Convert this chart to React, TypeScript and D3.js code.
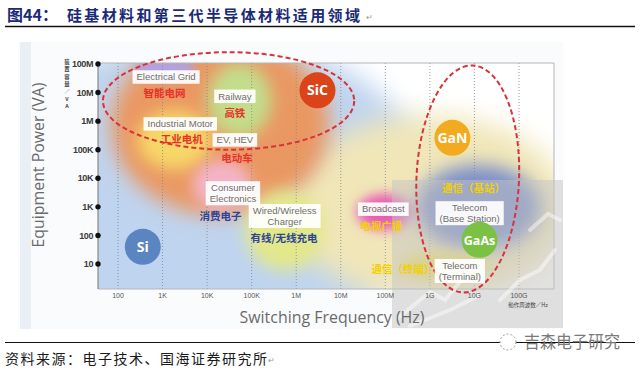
import React, { useEffect, useRef } from 'react';
import * as d3 from 'd3';

const xTicks = [1e2, 1e3, 1e4, 1e5, 1e6, 1e7, 1e8, 1e9, 1e10, 1e11];
const xTickLabels = ['100', '1K', '10K', '100K', '1M', '10M', '100M', '1G', '10G', '100G'];
const yTicks = [1e1, 1e2, 1e3, 1e4, 1e5, 1e6, 1e7, 1e8];
const yTickLabels = ['10', '100', '1K', '10K', '100K', '1M', '10M', '100M'];

// material bubbles: switching frequency (Hz) / equipment power (VA)
const materials = ['Si', 'SiC', 'GaN', 'GaAs'];
const materialFreq = [360, 3e6, 3.2e9, 1.3e10];
const materialPower = [40, 1.2e7, 2.6e5, 70];
const materialColors = ['#5b85c1', '#db4318', '#f2aa1e', '#7bc143'];

// application labels
const appNames = ['Electrical Grid', 'Railway', 'Industrial Motor', 'EV, HEV', 'Consumer\nElectronics',
    'Wired/Wireless\nCharger', 'Broadcast', 'Telecom\n(Base Station)', 'Telecom\n(Terminal)'];
const appFreq = [1.2e3, 4.2e4, 2.5e3, 4.2e4, 3.8e4, 5.5e5, 9e7, 7.8e9, 4.7e9];
const appPower = [3.5e7, 7.4e6, 8e5, 2.2e5, 3e3, 480, 830, 600, 5.7];
const appNamesZh = ['智能电网', '高铁', '工业电机', '电动车', '消费电子', '有线/无线充电', '电视广播', '通信（基站）', '通信（终端）'];
const appZhFreq = [1.1e3, 4.2e4, 2.7e3, 4.7e4, 2e4, 5.3e5, 8e7, 9.5e9, 2.5e8];
const appZhPower = [1e7, 2e6, 2.3e5, 5.1e4, 480, 81, 210, 4.6e3, 6.7];
const appZhColors = ['#e8322c', '#e8322c', '#e8322c', '#e8322c', '#2e4596', '#2e4596', '#f3d000', '#f3d000', '#f3d000'];

// shaded application zones (frequency range, power range)
const zoneFreqLo = [0.1, 7e5, 70, 7e4, 1e4, 270, 240, 4.6e3, 2.3e7, 5e8, 2.1e8];
const zoneFreqHi = [1e9, 1.3e12, 5.6e6, 4.4e6, 2.8e5, 1.3e4, 5.4e3, 1e5, 4e8, 3e11, 2.2e10];
const zonePowerLo = [0.01, 0.55, 500, 6, 2.6e5, 2e4, 2.7e7, 780, 155, 30, 2.8];
const zonePowerHi = [1e9, 1.6e6, 1e9, 3.9e3, 1.1e8, 2.4e6, 1.9e8, 4.4e4, 2.8e3, 3e4, 26];
const zoneColors = ['#bfd4ef', '#f0e6b8', '#ea9862', '#e3e88a', '#c3dd8b', '#f7d768', '#b2a2dd',
    '#f3b4c6', '#e95cb5', '#7d90ca', '#efe066'];
const zoneBlur = [13, 13, 10, 8, 8, 8, 5, 7, 6, 9, 6];

// dashed outlines: SiC area and GaN/GaAs area
const ringFreqLo = [46, 5e8];
const ringFreqHi = [2e7, 1e11];
const ringPowerLo = [1e5, 1];
const ringPowerHi = [2.6e8, 9e7];
const ringTilt = [0, 2.5];

const App = () => {
    const svgRef = useRef(null);

    useEffect(() => {
        const svg = d3.select(svgRef.current);
        const width = 640;
        const height = 370;
        const plotLeft = 98;
        const plotRight = 554;
        const plotTop = 63;
        const plotBottom = 289;

        svg.attr('width', width).attr('height', height).selectAll('*').remove();

        const x = d3.scaleLog().domain([1e2, 1e11]).range([118, 519]);
        const y = d3.scaleLog().domain([1e1, 1e8]).range([264, 64]);

        const defs = svg.append('defs');
        zoneBlur.forEach((b, i) => {
            defs.append('filter')
                .attr('id', `blur-${i}`)
                .attr('x', '-60%').attr('y', '-60%')
                .attr('width', '220%').attr('height', '220%')
                .append('feGaussianBlur')
                .attr('stdDeviation', b);
        });
        defs.append('clipPath').attr('id', 'plot-clip')
            .append('rect')
            .attr('x', plotLeft).attr('y', plotTop)
            .attr('width', plotRight - plotLeft).attr('height', plotBottom - plotTop);

        // title
        const cjk = '"Noto Sans CJK SC", sans-serif';
        svg.append('text')
            .attr('x', 7).attr('y', 21)
            .attr('font-family', cjk).attr('font-weight', 700).attr('font-size', 16)
            .attr('fill', '#1b2a78')
            .text('图44：');
        svg.append('text')
            .attr('x', 67).attr('y', 21)
            .attr('font-family', cjk).attr('font-weight', 700).attr('font-size', 15)
            .attr('fill', '#1b2a78')
            .attr('textLength', 293).attr('lengthAdjust', 'spacing')
            .text('硅基材料和第三代半导体材料适用领域');
        svg.append('text')
            .attr('x', 366).attr('y', 20)
            .attr('font-size', 8).attr('fill', '#999')
            .text('↵');
        svg.append('line')
            .attr('x1', 5).attr('x2', 635).attr('y1', 26.5).attr('y2', 26.5)
            .attr('stroke', '#111').attr('stroke-width', 1.3);

        // picture background
        svg.append('rect')
            .attr('x', 18).attr('y', 42).attr('width', 545).attr('height', 287)
            .attr('fill', '#fafbfd');
        svg.append('rect')
            .attr('x', 20).attr('y', 42).attr('width', 11).attr('height', 287)
            .attr('fill', '#eaeff6');
        svg.append('rect')
            .attr('x', plotLeft).attr('y', plotTop)
            .attr('width', plotRight - plotLeft).attr('height', plotBottom - plotTop)
            .attr('fill', '#ffffff');

        // shaded zones
        const zones = svg.append('g').attr('clip-path', 'url(#plot-clip)');
        zoneColors.forEach((c, i) => {
            const x0 = x(zoneFreqLo[i]);
            const x1 = x(zoneFreqHi[i]);
            const y0 = y(zonePowerHi[i]);
            const y1 = y(zonePowerLo[i]);
            zones.append('ellipse')
                .attr('cx', (x0 + x1) / 2).attr('cy', (y0 + y1) / 2)
                .attr('rx', (x1 - x0) / 2).attr('ry', (y1 - y0) / 2)
                .attr('fill', c)
                .attr('filter', `url(#blur-${i})`);
        });

        // dotted grid
        svg.append('g')
            .selectAll('line')
            .data(xTicks)
            .join('line')
            .attr('x1', d => x(d)).attr('x2', d => x(d))
            .attr('y1', plotTop).attr('y2', plotBottom)
            .attr('stroke', '#7d8790').attr('stroke-width', 0.8)
            .attr('stroke-dasharray', '1,2');

        // frame
        svg.append('path')
            .attr('d', `M${plotLeft},${plotTop}H${plotRight}V${plotBottom}H${plotLeft}`)
            .attr('fill', 'none').attr('stroke', '#b5b5b5').attr('stroke-width', 1);
        svg.append('line')
            .attr('x1', plotLeft).attr('x2', plotLeft).attr('y1', plotTop).attr('y2', plotBottom)
            .attr('stroke', '#777').attr('stroke-width', 1);

        // grey watermark panel
        svg.append('rect')
            .attr('x', 392).attr('y', 180).attr('width', 171).attr('height', 148)
            .attr('fill', '#c4c4c4').attr('opacity', 0.5);
        const wm = svg.append('g').attr('stroke', '#ffffff').attr('stroke-opacity', 0.45)
            .attr('fill', 'none').attr('stroke-width', 4).attr('stroke-linecap', 'round');
        wm.append('path').attr('d', 'M398,318 L430,292 L445,300 L470,270');
        wm.append('path').attr('d', 'M500,300 L520,280 L540,270 L555,250');
        wm.append('path').attr('d', 'M410,326 L450,310 L478,296');
        wm.append('path').attr('d', 'M530,230 L548,214 L560,220');

        // axes ticks
        const label = '"Liberation Sans", Arial, sans-serif';
        svg.append('g')
            .selectAll('circle')
            .data(yTicks)
            .join('circle')
            .attr('cx', plotLeft).attr('cy', d => y(d)).attr('r', 2.7)
            .attr('fill', '#111');
        svg.append('g')
            .selectAll('text')
            .data(yTicks)
            .join('text')
            .attr('x', plotLeft - 5).attr('y', d => y(d) + 3.2)
            .attr('text-anchor', 'end')
            .attr('font-family', label).attr('font-weight', 700).attr('font-size', 9)
            .attr('letter-spacing', -0.4)
            .attr('fill', '#3a3a3a')
            .text((d, i) => yTickLabels[i]);
        svg.append('g')
            .selectAll('text')
            .data(xTicks)
            .join('text')
            .attr('x', d => x(d)).attr('y', 298)
            .attr('text-anchor', 'middle')
            .attr('font-family', label).attr('font-size', 7)
            .attr('fill', '#555')
            .text((d, i) => xTickLabels[i]);
        svg.append('text')
            .attr('x', 528).attr('y', 307)
            .attr('text-anchor', 'middle')
            .attr('font-family', cjk).attr('font-size', 5.5)
            .attr('fill', '#444')
            .text('動作周波数／Hz');
        const unit = ['装', '置', '容', '量', '／', 'V', 'A'];
        svg.append('g')
            .selectAll('text')
            .data(unit)
            .join('text')
            .attr('x', 67).attr('y', (d, i) => 64 + i * 7.4)
            .attr('text-anchor', 'middle')
            .attr('font-family', cjk).attr('font-weight', 700).attr('font-size', 5.4)
            .attr('fill', '#444')
            .text(d => d);

        // axis titles
        svg.append('text')
            .attr('x', 332).attr('y', 323)
            .attr('text-anchor', 'middle')
            .attr('font-family', '"Open Sans", sans-serif').attr('font-size', 15.5)
            .attr('fill', '#6a6a6a')
            .attr('textLength', 185).attr('lengthAdjust', 'spacingAndGlyphs')
            .text('Switching Frequency (Hz)');
        svg.append('text')
            .attr('transform', 'translate(44,165) rotate(-90)')
            .attr('text-anchor', 'middle')
            .attr('font-family', '"Open Sans", sans-serif').attr('font-size', 15.5)
            .attr('fill', '#6a6a6a')
            .attr('textLength', 165).attr('lengthAdjust', 'spacingAndGlyphs')
            .text('Equipment Power (VA)');

        // dashed outlines
        ringFreqLo.forEach((f, i) => {
            const x0 = x(f);
            const x1 = x(ringFreqHi[i]);
            const y0 = y(ringPowerHi[i]);
            const y1 = y(ringPowerLo[i]);
            const cx = (x0 + x1) / 2;
            const cy = (y0 + y1) / 2;
            svg.append('ellipse')
                .attr('cx', cx).attr('cy', cy)
                .attr('rx', (x1 - x0) / 2).attr('ry', (y1 - y0) / 2)
                .attr('transform', `rotate(${ringTilt[i]},${cx},${cy})`)
                .attr('fill', 'none')
                .attr('stroke', '#d8323a').attr('stroke-width', 2)
                .attr('stroke-dasharray', '5,3');
        });

        // application labels
        appNames.forEach((name, i) => {
            const lines = name.split('\n');
            const cx = x(appFreq[i]);
            const cy = y(appPower[i]);
            const g = svg.append('g');
            const box = g.append('rect').attr('fill', '#ffffff').attr('opacity', 0.92);
            const lh = 10.5;
            let w = 0;
            lines.forEach((ln, k) => {
                const t = g.append('text')
                    .attr('x', cx)
                    .attr('y', cy + (k - (lines.length - 1) / 2) * lh + 3.3)
                    .attr('text-anchor', 'middle')
                    .attr('font-family', label).attr('font-size', 9.5)
                    .attr('fill', '#6e6e6e')
                    .text(ln);
                w = Math.max(w, t.node().getComputedTextLength());
            });
            const h = lines.length * lh + 3;
            box.attr('x', cx - w / 2 - 4).attr('y', cy - h / 2)
                .attr('width', w + 8).attr('height', h);
        });
        svg.append('g')
            .selectAll('text')
            .data(appNamesZh)
            .join('text')
            .attr('x', (d, i) => x(appZhFreq[i])).attr('y', (d, i) => y(appZhPower[i]) + 4)
            .attr('text-anchor', 'middle')
            .attr('font-family', cjk).attr('font-weight', 700).attr('font-size', 10.5)
            .attr('fill', (d, i) => appZhColors[i])
            .text(d => d);

        // material bubbles
        const bubbles = svg.append('g')
            .selectAll('g')
            .data(materials)
            .join('g')
            .attr('transform', (d, i) => `translate(${x(materialFreq[i])},${y(materialPower[i])})`);
        bubbles.append('circle')
            .attr('r', 18)
            .attr('fill', (d, i) => materialColors[i]);
        bubbles.append('text')
            .attr('y', 5)
            .attr('text-anchor', 'middle')
            .attr('font-family', '"Open Sans", sans-serif').attr('font-weight', 700)
            .attr('font-size', d => (d.length > 3 ? 12.5 : 14))
            .attr('fill', '#ffffff')
            .text(d => d);

        // footer
        svg.append('line')
            .attr('x1', 5).attr('x2', 635).attr('y1', 342.5).attr('y2', 342.5)
            .attr('stroke', '#111').attr('stroke-width', 1);
        svg.append('circle')
            .attr('cx', 508).attr('cy', 342).attr('r', 8)
            .attr('fill', '#fff').attr('stroke', '#999').attr('stroke-width', 1)
            .attr('stroke-dasharray', '2,2');
        svg.append('text')
            .attr('x', 524).attr('y', 348)
            .attr('font-family', cjk).attr('font-size', 17)
            .attr('fill', '#7a7a7a')
            .attr('textLength', 96).attr('lengthAdjust', 'spacingAndGlyphs')
            .text('吉森电子研究');
        svg.append('text')
            .attr('x', 5).attr('y', 364)
            .attr('font-family', cjk).attr('font-size', 14)
            .attr('fill', '#1a1a1a')
            .attr('textLength', 262).attr('lengthAdjust', 'spacing')
            .text('资料来源：电子技术、国海证券研究所');
        svg.append('text')
            .attr('x', 268).attr('y', 363)
            .attr('font-size', 8).attr('fill', '#999')
            .text('↵');
    }, []);

    return <svg ref={svgRef} style={{ position: 'absolute', left: 0, top: 0 }}></svg>;
};

export default App;
